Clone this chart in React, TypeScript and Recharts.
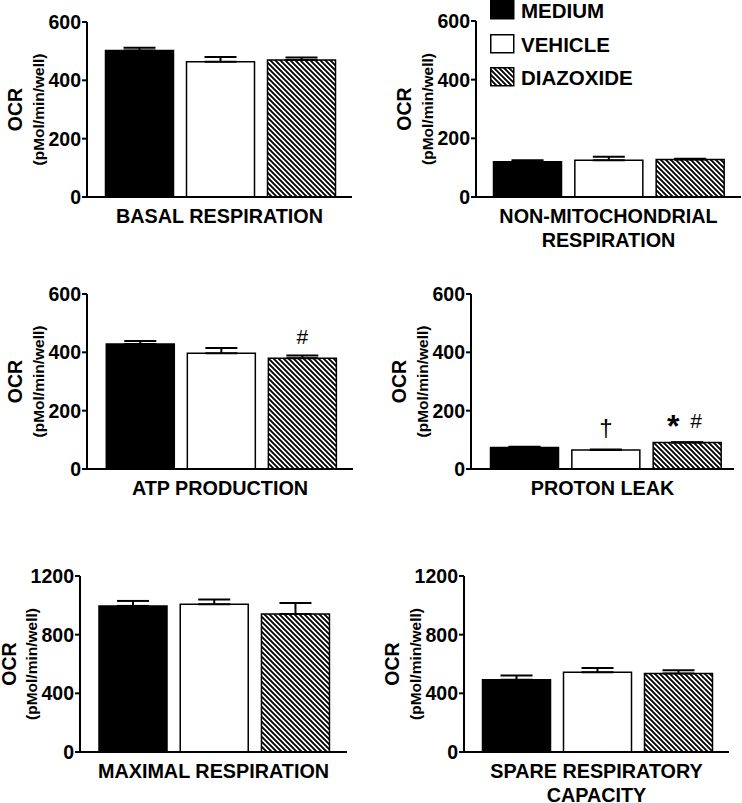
import React from 'react';
import { BarChart, Bar, XAxis, YAxis, Cell, ErrorBar, LabelList } from 'recharts';

const FONT = '"Liberation Sans", Arial, Helvetica, sans-serif';

const groups = ['MEDIUM', 'VEHICLE', 'DIAZOXIDE'];

const basalMean = [502, 464, 470];
const basalErr = [10, 16, 8];

const nonMitoMean = [120, 125, 128];
const nonMitoErr = [5, 12, 2];

const atpMean = [429, 397, 380];
const atpErr = [10, 18, 9];
const atpMarks = ['', '', '#'];

const leakMean = [74, 65, 91];
const leakErr = [2, 2, 1];
const leakMarks = ['', '†', '*#'];

const maximalMean = [996, 1007, 941];
const maximalErr = [34, 32, 75];

const spareMean = [492, 544, 535];
const spareErr = [30, 28, 23];

const ticks600 = [0, 200, 400, 600];
const ticks1200 = [0, 400, 800, 1200];

const fillFor = (i: number, id: string) => (i === 0 ? '#000' : i === 1 ? '#fff' : `url(#hatch-${id})`);

const HatchDef = ({ id }: { id: string }) => (
  <pattern id={`hatch-${id}`} patternUnits="userSpaceOnUse" width={5} height={5}>
    <rect width={5} height={5} fill="#fff" />
    <path d="M0,0 L5,5 M-1.25,3.75 L1.25,6.25 M3.75,-1.25 L6.25,1.25" stroke="#000" strokeWidth={1.9} />
  </pattern>
);

// marks above the bars (#, †, *)
const MarkLabel = (props: any) => {
  const { x, y, width, value } = props;
  if (!value) return null;
  const cx = x + width / 2;
  const cy = y - 22;
  if (value === '*#') {
    return (
      <g>
        <text x={cx - 14} y={cy + 17} textAnchor="middle" fontFamily={FONT} fontWeight="bold" fontSize={32} fill="#000">*</text>
        <text x={cx + 9} y={cy + 7.5} textAnchor="middle" fontFamily={FONT} fontSize={21} fill="#000">#</text>
      </g>
    );
  }
  const fs = value === '†' ? 24 : 21;
  return (
    <text x={cx} y={cy + 7.5} textAnchor="middle" fontFamily={FONT} fontSize={fs} fill="#000">{value}</text>
  );
};

type PanelProps = {
  id: string;
  left: number;
  top: number;
  width: number;
  height: number;
  axisLeft: number;
  axisRight: number;
  plotTop: number;
  plotBottom: number;
  padL: number;
  padR: number;
  means: number[];
  errs: number[];
  marks?: string[];
  ticks: number[];
  title: string[];
};

const Panel = (p: PanelProps) => {
  const rows = groups.map((g, i) => ({
    name: g,
    value: p.means[i],
    err: [0, p.errs[i]],
    mark: p.marks ? p.marks[i] : '',
  }));
  const max = p.ticks[p.ticks.length - 1];

  return (
    <div style={{ position: 'absolute', left: p.left, top: p.top }}>
      <BarChart
        width={p.width}
        height={p.height}
        data={rows}
        margin={{ top: p.plotTop - p.top, right: p.left + p.width - p.axisRight, bottom: 0, left: 0 }}
      >
        <defs>
          <HatchDef id={p.id} />
        </defs>
        <XAxis
          dataKey="name"
          tick={false}
          tickLine={false}
          axisLine={{ stroke: '#000', strokeWidth: 2 }}
          height={p.top + p.height - p.plotBottom}
          padding={{ left: p.padL, right: p.padR }}
          label={{
            content: (lp: any) => {
              const vb = lp.viewBox;
              const cx = vb.x + vb.width / 2;
              return (
                <g>
                  {p.title.map((t, i) => (
                    <text key={i} x={cx} y={vb.y + 26 + i * 24} textAnchor="middle" fontFamily={FONT} fontWeight="bold" fontSize={19.8} fill="#000">
                      {t}
                    </text>
                  ))}
                </g>
              );
            },
          }}
        />
        <YAxis
          width={p.axisLeft - p.left}
          domain={[0, max]}
          ticks={p.ticks}
          interval={0}
          tickSize={5}
          tickMargin={1}
          axisLine={{ stroke: '#000', strokeWidth: 2 }}
          tickLine={{ stroke: '#000', strokeWidth: 2 }}
          tick={{ fill: '#000', fontSize: 19.5, fontWeight: 'bold', fontFamily: FONT }}
          label={{
            content: (lp: any) => {
              const vb = lp.viewBox;
              const right = vb.x + vb.width;
              const cy = vb.y + vb.height / 2;
              const ox = Math.min(72, vb.width - 9);
              return (
                <g>
                  <text x={right - ox} y={cy} transform={`rotate(-90 ${right - ox} ${cy})`} dy={7} textAnchor="middle" fontFamily={FONT} fontWeight="bold" fontSize={19.5} fill="#000">
                    OCR
                  </text>
                  <text x={right - 48} y={cy} transform={`rotate(-90 ${right - 48} ${cy})`} dy={5} textAnchor="middle" fontFamily={FONT} fontWeight="bold" fontSize={15.5} fill="#000">
                    (pMol/min/well)
                  </text>
                </g>
              );
            },
          }}
        />
        <Bar dataKey="value" barSize={68} stroke="#000" strokeWidth={1.5} isAnimationActive={false}>
          {rows.map((_, i) => (
            <Cell key={i} fill={fillFor(i, p.id)} />
          ))}
          <ErrorBar dataKey="err" width={16} stroke="#000" strokeWidth={2} direction="y" />
          <LabelList dataKey="mark" content={<MarkLabel />} />
        </Bar>
      </BarChart>
    </div>
  );
};

const LegendBox = () => {
  const rowsY = [0, 34, 67];
  return (
    <svg width={160} height={95} style={{ position: 'absolute', left: 486, top: 0 }}>
      <defs>
        <HatchDef id="legend" />
      </defs>
      {groups.map((g, i) => (
        <g key={g}>
          <rect x={4.75} y={rowsY[i] + 0.75} width={23} height={18} fill={fillFor(i, 'legend')} stroke="#000" strokeWidth={1.5} />
          <text x={35} y={rowsY[i] + 10} dy={7.5} fontFamily={FONT} fontWeight="bold" fontSize={20.5} fill="#000">
            {g}
          </text>
        </g>
      ))}
    </svg>
  );
};

export default function App() {
  return (
    <div style={{ position: 'absolute', left: 0, top: 0, width: 742, height: 803, background: '#fff' }}>
      <Panel id="basal" left={0} top={0} width={371} height={260} axisLeft={87} axisRight={352} plotTop={22} plotBottom={197}
        padL={11.5} padR={10.5} means={basalMean} errs={basalErr} ticks={ticks600} title={['BASAL RESPIRATION']} />
      <Panel id="nonmito" left={371} top={0} width={371} height={260} axisLeft={476} axisRight={741} plotTop={21} plotBottom={197}
        padL={10.5} padR={10.5} means={nonMitoMean} errs={nonMitoErr} ticks={ticks600} title={['NON-MITOCHONDRIAL', 'RESPIRATION']} />
      <Panel id="atp" left={0} top={260} width={371} height={280} axisLeft={87} axisRight={353} plotTop={294} plotBottom={469}
        padL={12.3} padR={10.6} means={atpMean} errs={atpErr} marks={atpMarks} ticks={ticks600} title={['ATP PRODUCTION']} />
      <Panel id="leak" left={371} top={260} width={371} height={280} axisLeft={471} axisRight={734} plotTop={294} plotBottom={469}
        padL={12.5} padR={6.5} means={leakMean} errs={leakErr} marks={leakMarks} ticks={ticks600} title={['PROTON LEAK']} />
      <Panel id="maximal" left={0} top={540} width={371} height={263} axisLeft={80} axisRight={347} plotTop={576} plotBottom={752}
        padL={12} padR={11.3} means={maximalMean} errs={maximalErr} ticks={ticks1200} title={['MAXIMAL RESPIRATION']} />
      <Panel id="spare" left={371} top={540} width={371} height={263} axisLeft={464} axisRight={729} plotTop={576} plotBottom={752}
        padL={11.5} padR={10.5} means={spareMean} errs={spareErr} ticks={ticks1200} title={['SPARE RESPIRATORY', 'CAPACITY']} />
      <LegendBox />
    </div>
  );
}
